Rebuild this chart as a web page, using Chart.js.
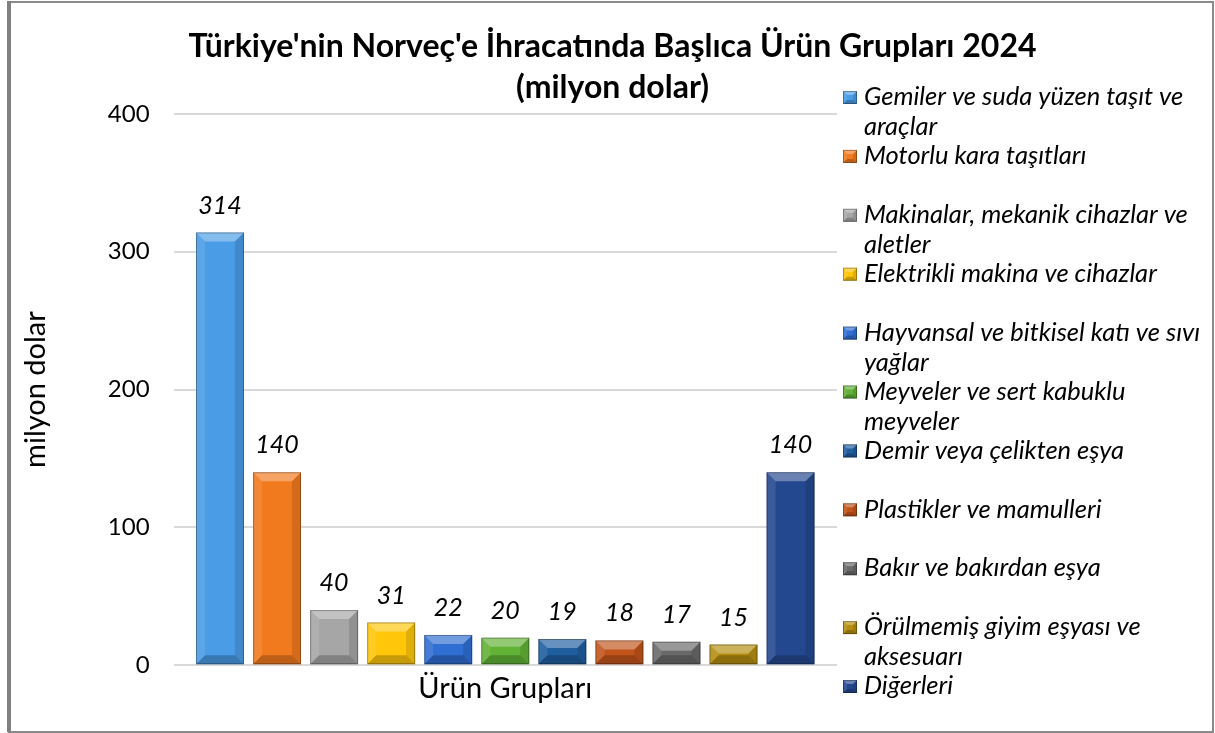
<!DOCTYPE html>
<html>
<head>
<meta charset="utf-8">
<script src="https://cdn.jsdelivr.net/npm/chart.js@4.4.1/dist/chart.umd.min.js"></script>
<style>
	html, body { margin: 0; padding: 0; background: #fff; }
	#wrap { width: 1215px; height: 733px; position: relative; }
</style>
</head>
<body>
<div id="wrap"><canvas id="exportChart" width="1215" height="733"></canvas></div>
<script>
	// product groups (legend lines as in the original)
	var groupNames = [
		["Gemiler ve suda yüzen taşıt ve", "araçlar"],
		["Motorlu kara taşıtları"],
		["Makinalar, mekanik cihazlar ve", "aletler"],
		["Elektrikli makina ve cihazlar"],
		["Hayvansal ve bitkisel katı ve sıvı", "yağlar"],
		["Meyveler ve sert kabuklu", "meyveler"],
		["Demir veya çelikten eşya"],
		["Plastikler ve mamulleri"],
		["Bakır ve bakırdan eşya"],
		["Örülmemiş giyim eşyası ve", "aksesuarı"],
		["Diğerleri"]
	];
	// export values, million USD
	var exportValues = [314, 140, 40, 31, 22, 20, 19, 18, 17, 15, 140];
	var barColors = [
		"#4A9CE6", "#F27A1E", "#A6A6A6", "#FFC60A", "#2F6ED2", "#62B236",
		"#1F5E9F", "#C2541B", "#696969", "#B58E10", "#24488F"
	];
	var xLabels = ["Ürün Grupları"];
	var yTicks = [0, 100, 200, 300, 400];

	var FONT = "Lato";

	function poly(ctx, pts, fill){
		ctx.beginPath();
		ctx.moveTo(pts[0][0], pts[0][1]);
		for (var i = 1; i < pts.length; i++) ctx.lineTo(pts[i][0], pts[i][1]);
		ctx.closePath();
		ctx.fillStyle = fill;
		ctx.fill();
	}

	// excel-like bevel on top of a filled rectangle
	function drawBevel(ctx, left, top, right, bottom, color, b, withFill){
		var w = right - left, h = bottom - top;
		b = Math.min(b, w / 2, h / 2);
		ctx.save();
		if (withFill) {
			ctx.fillStyle = color;
			ctx.fillRect(left, top, w, h);
		}
		poly(ctx, [[left, top], [right, top], [right - b, top + b], [left + b, top + b]], "rgba(255,255,255,0.32)");
		poly(ctx, [[left, bottom], [right, bottom], [right - b, bottom - b], [left + b, bottom - b]], "rgba(0,0,0,0.22)");
		poly(ctx, [[left, top], [left + b, top + b], [left + b, bottom - b], [left, bottom]], "rgba(255,255,255,0.10)");
		poly(ctx, [[right, top], [right - b, top + b], [right - b, bottom - b], [right, bottom]], "rgba(0,0,0,0.12)");
		ctx.strokeStyle = "rgba(0,0,0,0.30)";
		ctx.lineWidth = 1;
		ctx.strokeRect(left + 0.5, top + 0.5, w - 1, h - 1);
		ctx.restore();
	}

	var framePlugin = {
		id: "frame",
		beforeDraw: function(chart){
			var ctx = chart.ctx;
			ctx.save();
			ctx.fillStyle = "#fff";
			ctx.fillRect(0, 0, chart.width, chart.height);
			ctx.strokeStyle = "#8a8a8a";
			ctx.lineWidth = 2;
			ctx.strokeRect(9, 2, chart.width - 11, chart.height - 3);
			ctx.fillStyle = "#808080";
			ctx.fillRect(7, 1, 4, chart.height - 2);
			ctx.restore();
		}
	};

	var barDecorPlugin = {
		id: "barDecor",
		afterDatasetsDraw: function(chart){
			var ctx = chart.ctx;
			chart.data.datasets.forEach(function(ds, i){
				var bar = chart.getDatasetMeta(i).data[0];
				if (!bar) return;
				var half = bar.width / 2;
				drawBevel(ctx, bar.x - half, bar.y, bar.x + half, bar.base, barColors[i], 9, false);
				ctx.save();
				ctx.font = "italic 25px " + FONT;
				ctx.fillStyle = "#000";
				ctx.textAlign = "center";
				ctx.textBaseline = "middle";
				ctx.fillText(String(ds.data[0]), bar.x, bar.y - 27);
				ctx.restore();
			});
		}
	};

	// legend drawn by hand: the original wraps long labels and keeps an even step
	var sideLegendPlugin = {
		id: "sideLegend",
		afterDraw: function(chart){
			var ctx = chart.ctx;
			var x0 = chart.chartArea.right + 6;
			var y0 = 97, step = 58.9, lineGap = 30;
			ctx.save();
			ctx.font = "italic 25.5px " + FONT;
			ctx.fillStyle = "#000";
			ctx.textBaseline = "middle";
			groupNames.forEach(function(lines, i){
				var y = y0 + i * step;
				drawBevel(ctx, x0, y - 6, x0 + 14, y + 7, barColors[i], 4, true);
				lines.forEach(function(t, k){
					ctx.fillStyle = "#000";
					ctx.fillText(t, x0 + 21, y + k * lineGap);
				});
			});
			ctx.restore();
		}
	};

	var datasets = groupNames.map(function(lines, i){
		return {
			label: lines.join(" "),
			data: [exportValues[i]],
			backgroundColor: barColors[i],
			borderWidth: 0,
			barPercentage: 0.84,
			categoryPercentage: 0.946
		};
	});

	var chart = new Chart(document.getElementById("exportChart"), {
		type: "bar",
		data: { labels: xLabels, datasets: datasets },
		plugins: [framePlugin, barDecorPlugin, sideLegendPlugin],
		options: {
			responsive: false,
			animation: false,
			layout: { padding: { left: 10, right: 0, top: 0, bottom: 21 } },
			plugins: {
				legend: { display: false },
				tooltip: { enabled: false },
				title: {
					display: true,
					text: ["Türkiye'nin Norveç'e İhracatında Başlıca Ürün Grupları 2024", "(milyon dolar)"],
					color: "#000",
					font: { family: FONT, size: 32, weight: "bold", lineHeight: 1.28 },
					padding: { top: 26, bottom: 6 }
				}
			},
			scales: {
				x: {
					grid: { display: false, drawTicks: false },
					border: { display: false },
					ticks: { color: "#000", padding: 6, font: { family: FONT, size: 29 } }
				},
				y: {
					min: 0,
					max: 400,
					afterBuildTicks: function(scale){
						scale.ticks = yTicks.map(function(v){ return { value: v }; });
					},
					grid: { color: "#d9d9d9", lineWidth: 2, drawTicks: false },
					border: { display: false },
					ticks: { color: "#000", padding: 24, font: { family: FONT, size: 24 } },
					title: {
						display: true,
						text: "milyon dolar",
						color: "#000",
						font: { family: FONT, size: 29 },
						padding: { top: 8, bottom: 31 }
					}
				},
				legendSpace: {
					axis: "y",
					type: "linear",
					position: "right",
					grid: { display: false },
					border: { display: false },
					ticks: { display: false },
					afterFit: function(scale){ scale.width = 378; }
				}
			}
		}
	});
</script>
</body>
</html>
